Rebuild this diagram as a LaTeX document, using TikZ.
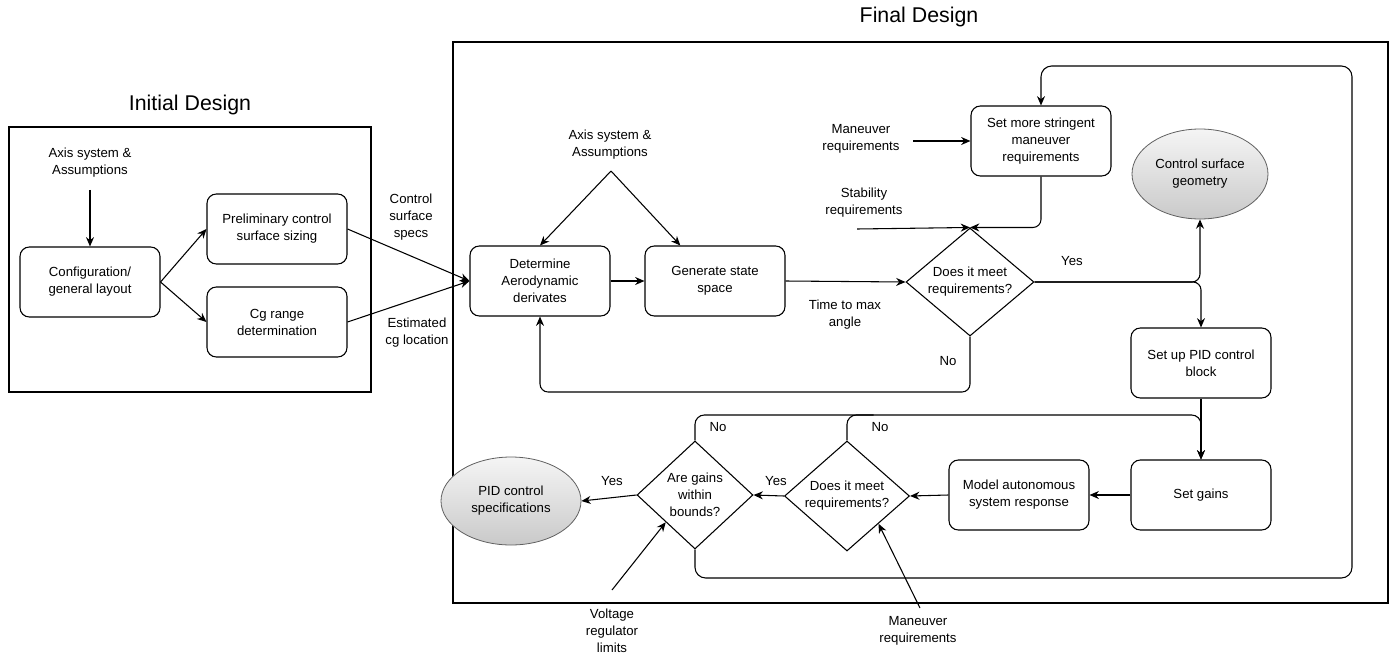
\documentclass[tikz,border=0pt]{standalone}
\usepackage{fontspec}
\setmainfont{Liberation Sans}
\usetikzlibrary{shapes.geometric,arrows.meta}
\begin{document}
\begin{tikzpicture}[x=0.75pt,y=-0.75pt,
  every node/.style={font=\fontsize{9.9}{12.75}\selectfont, align=center, inner sep=0pt},
  box/.style={draw, rounded corners=7pt, minimum width=105pt, minimum height=52.5pt, line width=0.8pt},
  dia/.style={draw, diamond, line width=0.8pt},
  blob/.style={draw=gray!75!black, ellipse, line width=0.6pt, top color=gray!8, bottom color=gray!42},
  arr/.style={line width=0.8pt, -{Stealth[length=7pt,width=6pt]}},
  ln/.style={line width=0.8pt},
  frame/.style={draw, line width=0.85pt},
  title/.style={font=\fontsize{16}{19}\selectfont}
]
\useasboundingbox (0,0) rectangle (1393,657);

% section frames and titles
\draw[frame] (9,127) rectangle (371,392);
\draw[frame] (453,42) rectangle (1388,603);
\node[title] (tInit) at (190,105) {Initial Design};
\node[title] (tFinal) at (919,17) {Final Design};

% initial design
\node (ax1) at (90,163) {Axis system \&\\Assumptions};
\node[box] (config) at (90,282) {Configuration/\\general layout};
\node[box] (prelim) at (277,229) {Preliminary control\\surface sizing};
\node[box] (cg) at (277,322) {Cg range\\determination};
\node (specs) at (411,217) {Control\\surface\\specs};
\node (estcg) at (417,333) {Estimated\\cg location};

% final design, upper part
\node (ax2) at (610,145) {Axis system \&\\Assumptions};
\coordinate (apex) at (611,171);
\node[box] (det) at (540,281) {Determine\\Aerodynamic\\derivates};
\node[box] (gen) at (715,281) {Generate state\\space};
\node (ttm) at (845,315) {Time to max\\angle};
\node[dia, minimum width=96pt, minimum height=81pt] (d1) at (970,282) {};
\node (d1t) at (d1) {Does it meet\\requirements?};
\node[box] (ss) at (1041,141) {Set more stringent\\maneuver\\requirements};
\node (man1) at (861,139) {Maneuver\\requirements};
\node (stab) at (864,203) {Stability\\requirements};
\coordinate (stabTail) at (857,229);
\node[blob, minimum width=102pt, minimum height=67.5pt] (csg) at (1200,174) {Control surface\\geometry};
\node[box] (pid) at (1201,363) {Set up PID control\\block};
\node (yes1) at (1072,261) {Yes};
\node (no1) at (948,361) {No};
\coordinate (backY) at (0,392);

% final design, lower part
\node[box] (sg) at (1201,495) {Set gains};
\node[box] (model) at (1019,495) {Model autonomous\\system response};
\node[dia, minimum width=93.75pt, minimum height=82.5pt] (d2) at (847,496) {};
\node (d2t) at (d2) {Does it meet\\requirements?};
\node[dia, minimum width=87pt, minimum height=81pt] (d3) at (695,495) {};
\node (d3t) at (d3) {Are gains\\within\\bounds?};
\node[blob, minimum width=105pt, minimum height=66pt] (pidspec) at (511,501) {PID control\\specifications};
\node (yes2) at (776,481) {Yes};
\node (yes3) at (612,481) {Yes};
\node (no2) at (880,427) {No};
\node (no3) at (718,427) {No};
\node (volt) at (612,631) {Voltage\\regulator\\limits};
\coordinate (voltTail) at (612,590);
\node (man2) at (918,631) {Maneuver\\requirements};
\coordinate (man2Tail) at (920,608);
\coordinate (noY) at (0,415);
\coordinate (loopBR) at (1352,578);
\coordinate (loopTR) at (1352,66);

% connectors, initial design
\draw[arr] ([yshift=-9pt]ax1.south) -- (config.north);
\draw[arr] (config.east) -- (prelim.west);
\draw[arr] (config.east) -- (cg.west);
\draw[arr] (prelim.east) -- (det.west);
\draw[arr] (cg.east) -- (det.west);

% connectors, upper loop
\draw[arr] (apex) -- (det.north);
\draw[arr] (apex) -- ([xshift=-26pt]gen.north);
\draw[arr] (det.east) -- (gen.west);
\draw[arr] (gen.east) -- (d1.west);
\draw[arr] ([xshift=10pt]man1.east |- ss.west) -- (ss.west);
\draw[arr] (stabTail) -- (d1.north);
\draw[arr, rounded corners=6pt] (ss.south) |- (d1.north);
\draw[arr, rounded corners=6pt] (d1.south) |- (det.south |- backY) -- (det.south);
\draw[arr, rounded corners=6pt] (d1.east) -| (csg.south);
\draw[arr, rounded corners=6pt] (d1.east) -| (pid.north);

% connectors, gain tuning
\draw[arr] (pid.south) -- (sg.north);
\draw[arr] (sg.west) -- (model.east);
\draw[arr] (model.west) -- (d2.east);
\draw[arr] (d2.west) -- (d3.east);
\draw[arr] (d3.west) -- (pidspec.east);
\draw[arr, rounded corners=7pt] (d3.north) |- (sg.north |- noY) -- (sg.north);
\draw[ln, rounded corners=7pt] (d2.north) |- ([xshift=20pt]d2.north |- noY);
\draw[arr, rounded corners=8pt] (d3.south) |- (loopBR) -- (loopTR) -| (ss.north);
\draw[arr] (voltTail) -- (d3.south west);
\draw[arr] (man2Tail) -- (d2.south east);
\end{tikzpicture}
\end{document}
